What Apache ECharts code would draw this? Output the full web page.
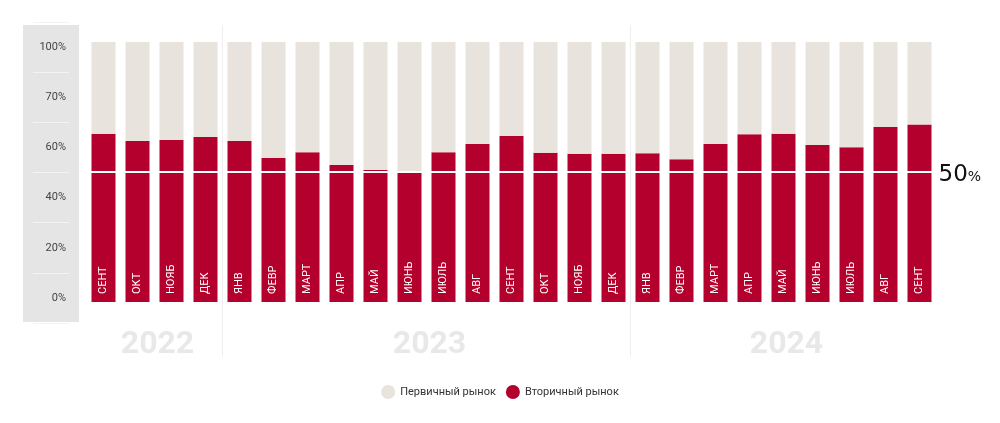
<!DOCTYPE html>
<html>
<head>
<meta charset="utf-8">
<script src="https://cdn.jsdelivr.net/npm/echarts@6/dist/echarts.min.js"></script>
<style>
  html, body { margin: 0; padding: 0; background: #fff; }
  #chart { width: 1000px; height: 423px; }
</style>
</head>
<body>
<div id="chart"></div>
<script>
// months (Sep 2022 .. Sep 2024)
var months = ['СЕНТ', 'ОКТ', 'НОЯБ', 'ДЕК', 'ЯНВ', 'ФЕВР', 'МАРТ', 'АПР', 'МАЙ', 'ИЮНЬ', 'ИЮЛЬ', 'АВГ',
  'СЕНТ', 'ОКТ', 'НОЯБ', 'ДЕК', 'ЯНВ', 'ФЕВР', 'МАРТ', 'АПР', 'МАЙ', 'ИЮНЬ', 'ИЮЛЬ', 'АВГ', 'СЕНТ']
// share of secondary market, %
var secondary = [64.6, 61.9, 62.3, 63.5, 61.9, 55.4, 57.6, 52.7, 50.8, 50.4, 57.6, 60.8,
  63.8, 57.4, 57.0, 57.0, 57.2, 54.9, 60.8, 64.5, 64.7, 60.4, 59.5, 67.3, 68.3]
var primary = secondary.map(function (v) { return +(100 - v).toFixed(1) })
var yLabels = ['0%', '20%', '40%', '60%', '70%', '100%']
var years = ['2022', '2023', '2024']
var yearStart = [0, 4, 16]
var yearEnd = [3, 15, 24]
var seriesNames = ['Первичный рынок', 'Вторичный рынок']

var red = '#b3002d'
var beige = '#e8e4dd'
var font = 'Roboto, "Noto Sans", sans-serif'

var chart = echarts.init(document.getElementById('chart'))

var option = {
  animation: false,
  textStyle: { fontFamily: font },
  graphic: [
    { type: 'rect', z: -10, silent: true, shape: { x: 23, y: 25, width: 56, height: 297 }, style: { fill: '#e5e5e5' } }
  ],
  legend: {
    data: seriesNames,
    top: 380,
    left: 'center',
    icon: 'circle',
    itemWidth: 14,
    itemHeight: 14,
    itemGap: 10,
    textStyle: { fontSize: 11, color: '#333', fontFamily: font }
  },
  grid: [
    { left: 33, top: 22, width: 36, height: 301 },
    { left: 86.5, top: 42, width: 850, height: 260 },
    { left: 86.5, top: 25, width: 850, height: 331 }
  ],
  xAxis: [
    { gridIndex: 0, type: 'value', show: false },
    {
      gridIndex: 1, type: 'category', data: months,
      axisLine: { show: false }, axisTick: { show: false }, axisLabel: { show: false }, splitLine: { show: false }
    },
    // band boundaries: value i = left edge of month i
    { gridIndex: 2, type: 'value', min: 0, max: months.length, show: false, splitLine: { show: false } }
  ],
  yAxis: [
    {
      gridIndex: 0, type: 'category', data: yLabels, position: 'right',
      axisLine: { show: false }, axisTick: { show: false },
      axisLabel: { inside: true, margin: 3, fontSize: 11, color: '#444', fontFamily: font },
      splitLine: { show: true, lineStyle: { color: '#f3f3f3', width: 1 } }
    },
    { gridIndex: 1, type: 'value', min: 0, max: 100, show: false },
    { gridIndex: 2, type: 'value', min: 0, max: 1, show: false, splitLine: { show: false } }
  ],
  series: [
    {
      name: seriesNames[1],
      type: 'bar',
      stack: 'share',
      xAxisIndex: 1,
      yAxisIndex: 1,
      barWidth: 24,
      data: secondary,
      itemStyle: { color: red },
      label: {
        show: true,
        position: 'insideBottom',
        distance: 8,
        rotate: 90,
        align: 'left',
        verticalAlign: 'middle',
        formatter: '{b}',
        color: '#fff',
        fontSize: 11,
        fontFamily: font
      }
    },
    {
      name: seriesNames[0],
      type: 'bar',
      stack: 'share',
      xAxisIndex: 1,
      yAxisIndex: 1,
      barWidth: 24,
      data: primary,
      itemStyle: { color: beige },
      markLine: {
        silent: true,
        symbol: 'none',
        lineStyle: { color: '#fff', width: 2, type: 'solid' },
        label: {
          show: true,
          position: 'end',
          distance: 2,
          formatter: '{a|50}{b|%}',
          rich: {
            a: { fontSize: 23, color: '#111', fontFamily: '"DejaVu Sans"', padding: [6, 0, 0, 0] },
            b: { fontSize: 14, color: '#111', fontFamily: '"DejaVu Sans"', padding: [10, 0, 0, 0] }
          }
        },
        data: [{ yAxis: 50 }]
      }
    },
    {
      // year separators
      name: 'years',
      type: 'line',
      xAxisIndex: 2,
      yAxisIndex: 2,
      data: [],
      markLine: {
        silent: true,
        symbol: 'none',
        label: { show: false },
        lineStyle: { color: '#eeeeee', width: 1, type: 'solid' },
        data: yearStart.slice(1).map(function (s) { return { xAxis: s } })
      }
    }
  ]
}

chart.setOption(option)

// year captions under each group of bars
var yearText = years.map(function (y, i) {
  var x0 = chart.convertToPixel({ xAxisIndex: 1 }, yearStart[i])
  var x1 = chart.convertToPixel({ xAxisIndex: 1 }, yearEnd[i])
  return {
    type: 'text',
    silent: true,
    x: (x0 + x1) / 2 + 3,
    y: 345,
    style: {
      text: y,
      fill: '#e8e8e8',
      font: 'bold 32px ' + font,
      textAlign: 'center',
      textVerticalAlign: 'middle'
    }
  }
})
chart.setOption({ graphic: option.graphic.concat(yearText) })
</script>
</body>
</html>
